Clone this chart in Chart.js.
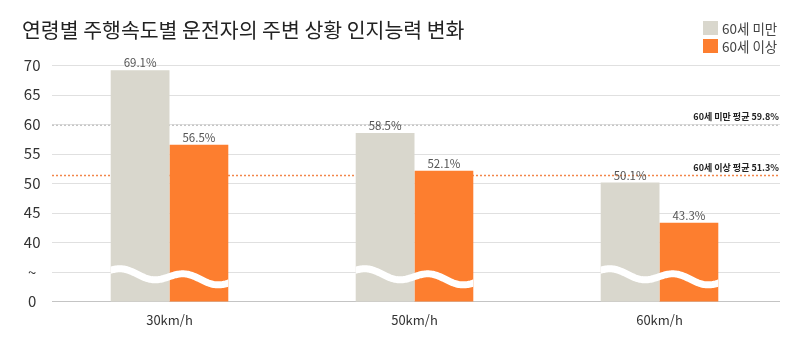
<!DOCTYPE html>
<html lang="ko">
<head>
<meta charset="utf-8">
<script src="https://cdn.jsdelivr.net/npm/chart.js@4/dist/chart.umd.min.js"></script>
<style>
  html, body { margin: 0; padding: 0; background: #fff; }
  #wrap { width: 800px; height: 339px; position: relative; }
</style>
</head>
<body>
<div id="wrap"><canvas id="c" width="800" height="339"></canvas></div>
<script>
// 주행속도 구간
const categories = ['30km/h', '50km/h', '60km/h'];
// 연령대별 인지능력 (%)
const seriesNames = ['60세 미만', '60세 이상'];
const under60 = [69.1, 58.5, 50.1];
const over60 = [56.5, 52.1, 43.3];
// 연령대별 평균 (%)
const averages = [59.8, 51.3];
const averageLabels = ['60세 미만 평균 59.8%', '60세 이상 평균 51.3%'];
// 세로축: 40 아래는 생략 구간
const yTickValues = [30, 35, 40, 45, 50, 55, 60, 65, 70];
const yTickLabels = ['0', '~', '40', '45', '50', '55', '60', '65', '70'];

const title = '연령별 주행속도별 운전자의 주변 상황 인지능력 변화';
const colors = ['#d9d7cd', '#fd7e2f'];
const avgColors = ['#c6c6c6', '#f2864a'];
const KR = '"Noto Sans CJK KR", "Noto Sans", sans-serif';

// 가로 눈금선, 평균선 (막대 뒤)
const backdrop = {
  id: 'backdrop',
  beforeDatasetsDraw(chart) {
    const { ctx, scales: { y } } = chart;
    ctx.save();
    yTickValues.forEach((v, i) => {
      const py = Math.round(y.getPixelForValue(v)) + 0.5;
      ctx.strokeStyle = i === 0 ? '#c4c4c4' : '#e0e0e0';
      ctx.lineWidth = 1;
      ctx.beginPath();
      ctx.moveTo(52, py);
      ctx.lineTo(780, py);
      ctx.stroke();
    });
    averages.forEach((v, i) => {
      const py = y.getPixelForValue(v);
      ctx.strokeStyle = avgColors[i];
      ctx.lineWidth = 1.5;
      ctx.setLineDash([2, 2]);
      ctx.beginPath();
      ctx.moveTo(52, py);
      ctx.lineTo(780, py);
      ctx.stroke();
      ctx.setLineDash([]);
      ctx.fillStyle = '#222';
      ctx.font = 'bold 9px ' + KR;
      ctx.textAlign = 'right';
      ctx.textBaseline = 'alphabetic';
      ctx.fillText(averageLabels[i], 779, py - 5);
    });
    ctx.restore();
  }
};

// 생략 구간 물결, 값 라벨, 제목, 범례
const overlay = {
  id: 'overlay',
  afterDatasetsDraw(chart) {
    const { ctx, scales: { y } } = chart;
    const m0 = chart.getDatasetMeta(0).data;
    const m1 = chart.getDatasetMeta(1).data;
    const yc = y.getPixelForValue(35);
    ctx.save();
    // 물결
    m0.forEach((b0, i) => {
      const b1 = m1[i];
      const left = b0.x - b0.width / 2;
      const right = b1.x + b1.width / 2;
      const top = Math.min(b0.y, b1.y);
      ctx.save();
      ctx.beginPath();
      ctx.rect(left, top, right - left, y.bottom - top);
      ctx.clip();
      ctx.strokeStyle = '#ffffff';
      ctx.lineWidth = 7;
      ctx.beginPath();
      for (let t = -2; t <= right - left + 2; t += 1) {
        const py = yc + 0.3 + 0.08 * t - 4.2 * Math.cos(2 * Math.PI * (t - 11) / 63);
        if (t === -2) ctx.moveTo(left + t, py); else ctx.lineTo(left + t, py);
      }
      ctx.stroke();
      ctx.restore();
    });
    // 값 라벨
    ctx.fillStyle = '#555';
    ctx.font = '11.5px ' + KR;
    ctx.textAlign = 'center';
    ctx.textBaseline = 'alphabetic';
    [[m0, under60], [m1, over60]].forEach(([meta, vals]) => {
      meta.forEach((bar, i) => {
        ctx.fillText(vals[i].toFixed(1) + '%', bar.x, bar.y - 3);
      });
    });
    ctx.restore();
  },
  afterDraw(chart) {
    const { ctx } = chart;
    ctx.save();
    ctx.fillStyle = '#222';
    ctx.font = '20.5px ' + KR;
    ctx.textAlign = 'left';
    ctx.textBaseline = 'middle';
    ctx.fillText(title, 22, 30);
    // 범례
    chart.data.datasets.forEach((ds, i) => {
      const top = 21 + i * 18;
      ctx.fillStyle = ds.backgroundColor;
      ctx.fillRect(703, top, 15, 14);
      ctx.fillStyle = '#444';
      ctx.font = '13.5px ' + KR;
      ctx.textBaseline = 'middle';
      ctx.fillText(ds.label, 722, top + 7.5);
    });
    ctx.restore();
  }
};

new Chart(document.getElementById('c'), {
  type: 'bar',
  data: {
    labels: categories,
    datasets: [
      { label: seriesNames[0], data: under60, backgroundColor: colors[0] },
      { label: seriesNames[1], data: over60, backgroundColor: colors[1] }
    ]
  },
  options: {
    responsive: false,
    animation: false,
    events: [],
    layout: { padding: { top: 65, right: 18, bottom: 0, left: 0 } },
    datasets: { bar: { categoryPercentage: 0.48, barPercentage: 1.0 } },
    plugins: {
      legend: { display: false },
      title: { display: false },
      tooltip: { enabled: false }
    },
    scales: {
      x: {
        grid: { display: false, drawTicks: false },
        border: { display: false },
        ticks: { color: '#333', font: { family: KR, size: 13 }, padding: 11 }
      },
      y: {
        min: 30,
        max: 70,
        afterFit(scale) { scale.width = 47; },
        afterBuildTicks(scale) { scale.ticks = yTickValues.map(v => ({ value: v })); },
        grid: { display: false, drawTicks: false, tickLength: 0 },
        border: { display: false },
        ticks: {
          crossAlign: 'center',
          padding: 6.5,
          color: '#333',
          font: { family: KR, size: 15 },
          callback(value) {
            const i = yTickValues.indexOf(value);
            return i >= 0 ? yTickLabels[i] : '';
          }
        }
      }
    }
  },
  plugins: [backdrop, overlay]
});
</script>
</body>
</html>
